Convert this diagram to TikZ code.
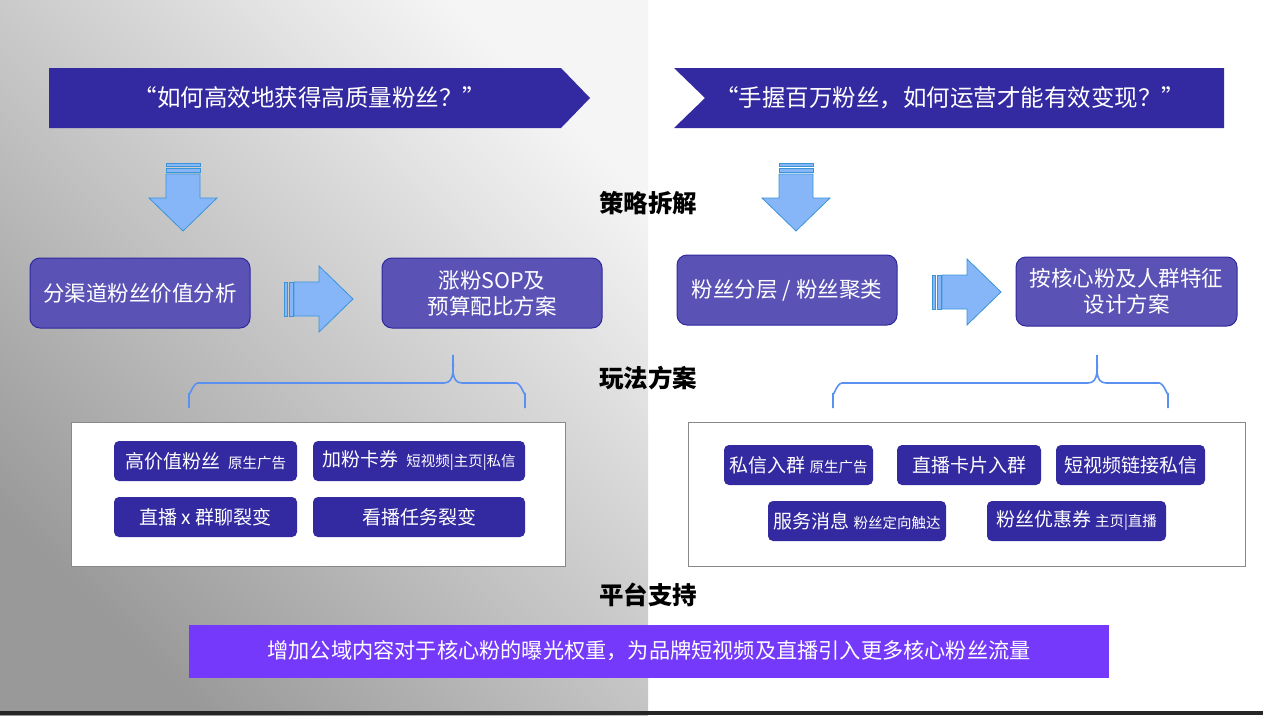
\documentclass[tikz,border=0pt]{standalone}
\usepackage{fontspec}
\setmainfont{Noto Sans CJK SC}
\definecolor{banner}{HTML}{3329A0}
\definecolor{boxfill}{HTML}{5B52B6}
\definecolor{boxdraw}{HTML}{2F2A9C}
\definecolor{arrfill}{HTML}{86B6F8}
\definecolor{arrdraw}{HTML}{3A95D8}
\definecolor{bracecol}{HTML}{5A90F0}
\definecolor{violetbar}{HTML}{7539FC}
\definecolor{panelline}{HTML}{888888}
\newcommand\fs[1]{\fontsize{#1}{#1}\selectfont}
\newcommand\dnarrow[1]{%
  \begin{scope}[shift={(#1,0)}]
    \filldraw[arrowshape] (-17,163) rectangle (17,166);
    \filldraw[arrowshape] (-17,168) rectangle (17,172);
    \filldraw[arrowshape] (-17,174) -- (17,174) -- (17,198) -- (34,198) -- (0,231) -- (-34,198) -- (-17,198) -- cycle;
  \end{scope}}
\newcommand\rtarrow[2]{%
  \begin{scope}[shift={(#1,#2)}]
    \filldraw[arrowshape] (0,-17) rectangle (3,17);
    \filldraw[arrowshape] (5,-17) rectangle (9,17);
    \filldraw[arrowshape] (10,-17) -- (35,-17) -- (35,-33) -- (69,0) -- (35,33) -- (35,17) -- (10,17) -- cycle;
  \end{scope}}
\begin{document}
\begin{tikzpicture}[x=1pt,y=-1pt,
  arrowshape/.style={fill=arrfill, draw=arrdraw, line width=0.8pt},
  bigbox/.style={fill=boxfill, draw=boxdraw, line width=1pt, rounded corners=10pt, text=white, align=center, font=\fontsize{21.5}{26}\selectfont, inner sep=0pt},
  smallbox/.style={fill=banner, rounded corners=5pt, text=white, align=center, inner sep=0pt, minimum height=40pt},
  heading/.style={font=\fs{24.5}\bfseries, text=black},
  panel/.style={fill=white, draw=panelline, line width=1pt},
  bracepath/.style={draw=bracecol, line width=1.6pt},
  bannertext/.style={text=white, font=\fs{23.5}}]
\useasboundingbox (0,0) rectangle (1263,715);
% background
\fill[white] (0,0) rectangle (1263,715);
\shade[top color=black!4, bottom color=black!40, shading angle=-45] (0,0) rectangle (648,715);
\fill[black!85] (0,711) rectangle (1263,715);

% top banners
\fill[banner] (49,68) -- (561,68) -- (590,98) -- (561,128) -- (49,128) -- cycle;
\node[bannertext] (q1) at (310,98) {“如何高效地获得高质量粉丝？”};
\fill[banner] (674,68) -- (1224,68) -- (1224,128) -- (674,128) -- (705,98) -- cycle;
\node[bannertext] (q2) at (950,98) {“手握百万粉丝，如何运营才能有效变现？”};

% down arrows
\dnarrow{183}
\dnarrow{796}

% headings
\node[heading] (h1) at (648,203) {策略拆解};
\node[heading] (h2) at (648,378) {玩法方案};
\node[heading] (h3) at (648,595) {平台支持};

% big boxes
\node[bigbox, minimum width=220pt, minimum height=70pt] (b1) at (140,293) {分渠道粉丝价值分析};
\node[bigbox, minimum width=220pt, minimum height=70pt] (b2) at (492,293) {涨粉SOP及\\预算配比方案};
\node[bigbox, minimum width=220pt, minimum height=70pt] (b3) at (787,290) {粉丝分层 / 粉丝聚类};
\node[bigbox, minimum width=221pt, minimum height=69pt] (b4) at (1126.5,291.5) {按核心粉及人群特征\\设计方案};

% right arrows
\rtarrow{284}{299}
\rtarrow{932}{292}

% braces
\draw[bracepath] (189,408) -- (189,393) to[out=-90,in=180] (198,383) -- (444,383) to[out=0,in=-90] (453,355) to[out=-90,in=180] (462,383) -- (516,383) to[out=0,in=-90] (525,393) -- (525,408);
\draw[bracepath] (833,408) -- (833,393) to[out=-90,in=180] (842,383) -- (1088,383) to[out=0,in=-90] (1097,355) to[out=-90,in=180] (1106,383) -- (1159,383) to[out=0,in=-90] (1168,393) -- (1168,408);

% panels
\draw[panel] (71,422) rectangle (565,566);
\draw[panel] (688,422) rectangle (1245,566);

% left small boxes
\node[smallbox, minimum width=183pt] (s1) at (205.5,461) {{\fs{19}高价值粉丝}\hspace{8pt}{\fs{14.5}原生广告}};
\node[smallbox, minimum width=212pt] (s2) at (419,461) {{\fs{19}加粉卡券}\hspace{8pt}{\fs{14.5}短视频|主页|私信}};
\node[smallbox, minimum width=183pt] (s3) at (205.5,517) {\fs{19}直播 x 群聊裂变};
\node[smallbox, minimum width=212pt] (s4) at (419,517) {\fs{19}看播任务裂变};

% right small boxes
\node[smallbox, minimum width=149pt] (r1) at (798.5,465) {{\fs{19}私信入群}\hspace{4pt}{\fs{14.5}原生广告}};
\node[smallbox, minimum width=144pt] (r2) at (969,465) {\fs{19}直播卡片入群};
\node[smallbox, minimum width=149pt] (r3) at (1130.5,465) {\fs{19}短视频链接私信};
\node[smallbox, minimum width=178pt] (r4) at (857,521) {{\fs{19}服务消息}\hspace{4pt}{\fs{14.5}粉丝定向触达}};
\node[smallbox, minimum width=179pt] (r5) at (1076.5,521) {{\fs{19}粉丝优惠券}\hspace{4pt}{\fs{14.5}主页|直播}};

% bottom banner
\fill[violetbar] (189,625) rectangle (1109,678);
\node[text=white, font=\fs{21.2}] (bottom) at (649,651) {增加公域内容对于核心粉的曝光权重，为品牌短视频及直播引入更多核心粉丝流量};
\end{tikzpicture}
\end{document}
